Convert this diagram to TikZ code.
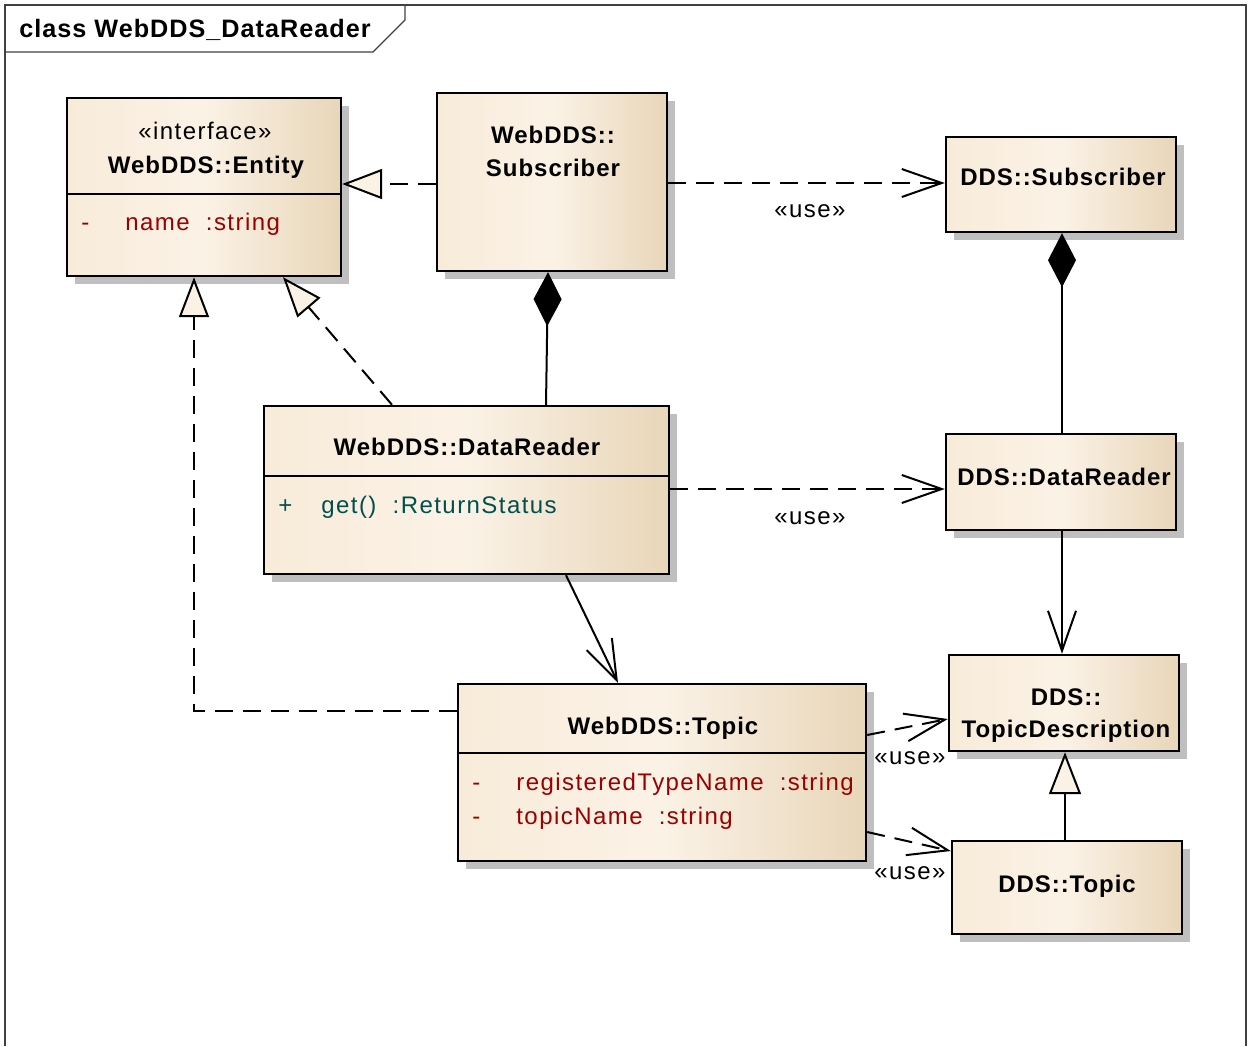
\documentclass[tikz,border=0pt]{standalone}
\usepackage{fontspec}
\setmainfont{Liberation Sans}[LetterSpace=6,BoldFeatures={LetterSpace=4}]
\usetikzlibrary{arrows.meta,shadows}
\definecolor{clsleft}{HTML}{F8EBD9}
\definecolor{clsmid}{HTML}{FBF2E6}
\definecolor{clsright}{HTML}{E8D6B9}
\definecolor{attrred}{HTML}{990000}
\definecolor{methteal}{HTML}{005050}
\definecolor{framegray}{HTML}{404040}
\begin{document}
\begin{tikzpicture}[x=0.5pt,y=-0.5pt,
		txt/.style={inner sep=0pt,font=\fontsize{12}{14}\selectfont,anchor=base},
		clsname/.style={txt,font=\fontsize{12}{14}\selectfont\bfseries},
		attr/.style={txt,anchor=base west,attrred},
		meth/.style={txt,anchor=base west,methteal},
		cls/.style={draw,line width=1.2pt,left color=clsleft,right color=clsright,middle color=clsmid,
			drop shadow={shadow xshift=4pt,shadow yshift=-4pt,fill=black!25,opacity=1}},
		dep/.style={line width=1pt,dash pattern=on 9pt off 5pt,-{Straight Barb[length=20pt,width=14pt]}},
		assoc/.style={line width=1pt,-{Straight Barb[length=20pt,width=14pt]}},
		realize/.style={line width=1pt,dash pattern=on 9pt off 5pt,-{Triangle[length=20pt,width=15pt,fill=clsmid]}},
		gen/.style={line width=1pt,-{Triangle[length=21pt,width=16pt,fill=clsmid]}},
		comp/.style={line width=1pt,{Diamond[length=27pt,width=14pt]}-}]
		\useasboundingbox (0,0) rectangle (1248,1046);
		\draw[framegray,line width=0.6pt] (5,1046) -- (5,5) -- (1246,5) -- (1246,1046);
		\draw[framegray,line width=0.6pt] (5,52) -- (373,52) -- (405,20) -- (405,5);
		\node[clsname,font=\fontsize{12.6}{14}\selectfont\bfseries,anchor=base west] (title) at (19,37) {class WebDDS\_DataReader};
		\node[cls,minimum width=137pt,minimum height=89pt] (ent) at (204,187) {};
		\node[cls,minimum width=115pt,minimum height=89pt] (wsub) at (552,182) {};
		\node[cls,minimum width=115pt,minimum height=47.5pt] (dsub) at (1061,184.5) {};
		\node[cls,minimum width=202.5pt,minimum height=84pt] (wdr) at (466.5,490) {};
		\node[cls,minimum width=115pt,minimum height=48pt] (ddr) at (1061,482) {};
		\node[cls,minimum width=204pt,minimum height=88.5pt] (wtop) at (662,772.5) {};
		\node[cls,minimum width=115pt,minimum height=48pt] (dtd) at (1064,703) {};
		\node[cls,minimum width=115pt,minimum height=46.5pt] (dtop) at (1067,887.5) {};
		\draw[line width=1.2pt] (ent.west |- 0,194) -- (ent.east |- 0,194);
		\draw[line width=1.2pt] (wdr.west |- 0,476) -- (wdr.east |- 0,476);
		\draw[line width=1.2pt] (wtop.west |- 0,753) -- (wtop.east |- 0,753);
		\node[txt] (entst) at (205,139) {«interface»};
		\node[clsname] (entn) at (206,173) {WebDDS::Entity};
		\node[attr] (entv) at (81,230) {-};
		\node[attr] (enta) at (125,230) {name\ \ :string};
		\node[clsname] (wsubn1) at (553,143) {WebDDS::};
		\node[clsname] (wsubn2) at (553,176) {Subscriber};
		\node[clsname] (dsubn) at (1063,185) {DDS::Subscriber};
		\node[clsname] (wdrn) at (467,455) {WebDDS::DataReader};
		\node[meth] (wdrv) at (278,513) {+};
		\node[meth] (wdrm) at (321,513) {get()\ \ :ReturnStatus};
		\node[clsname] (ddrn) at (1064,485) {DDS::DataReader};
		\node[clsname] (wtopn) at (663,734) {WebDDS::Topic};
		\node[attr] (wtopv1) at (472,790) {-};
		\node[attr] (wtopa1) at (516,790) {registeredTypeName\ \ :string};
		\node[attr] (wtopv2) at (472,824) {-};
		\node[attr] (wtopa2) at (516,824) {topicName\ \ :string};
		\node[clsname] (dtdn1) at (1066,705) {DDS::};
		\node[clsname] (dtdn2) at (1066,737) {TopicDescription};
		\node[clsname] (dtopn) at (1067,892) {DDS::Topic};
		\node[txt] (use1) at (810,217) {«use»};
		\node[txt] (use2) at (810,524) {«use»};
		\node[txt] (use3) at (910,764) {«use»};
		\node[txt] (use4) at (910,879) {«use»};
		\draw[realize] (wsub.west |- 0,184) -- (ent.east |- 0,184);
		\draw[dep] (wsub.east |- 0,183) -- (dsub.west |- 0,183);
		\draw[comp] (wsub.south -| 548,0) -- (wdr.north -| 546,0);
		\draw[comp] (dsub.south -| 1062,0) -- (ddr.north -| 1062,0);
		\draw[realize] (wdr.north -| 392,0) -- (ent.south -| 283,0);
		\draw[dep] (wdr.east |- 0,489) -- (ddr.west |- 0,489);
		\draw[assoc] (ddr.south -| 1062,0) -- (dtd.north -| 1062,0);
		\draw[assoc] (wdr.south -| 566,0) -- (wtop.north -| 618,0);
		\draw[realize] (wtop.west |- 0,711) -| (ent.south -| 194,0);
		\draw[dep] (wtop.east |- 0,735) -- (dtd.west |- 0,719);
		\draw[dep] (wtop.east |- 0,832) -- (dtop.west |- 0,851);
		\draw[gen] (dtop.north -| 1065,0) -- (dtd.south -| 1065,0);
\end{tikzpicture}
\end{document}
